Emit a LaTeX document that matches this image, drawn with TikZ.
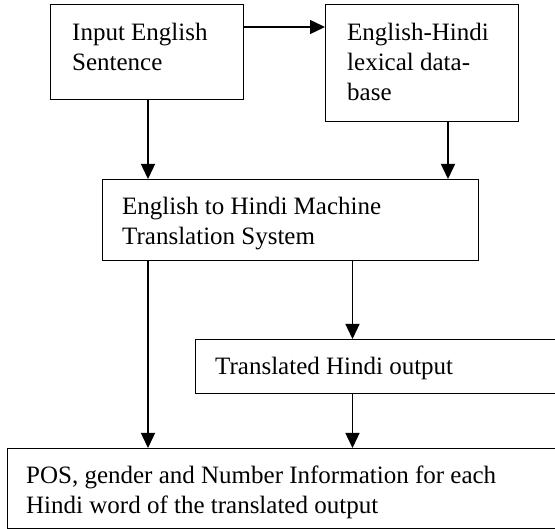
\documentclass[tikz,border=0pt]{standalone}
\usepackage{fontspec}
\setmainfont{Liberation Serif}
\usetikzlibrary{arrows.meta}
\begin{document}
\begin{tikzpicture}[x=1pt,y=-1pt,
  box/.style={draw, line width=1.4pt, inner sep=0pt, anchor=north west},
  txt/.style={anchor=north west, inner sep=0pt, align=left, font=\fontsize{25}{30}\selectfont},
  arr/.style={line width=1.4pt, -{Triangle[length=15pt,width=14pt]}}]
\clip (0,0) rectangle (555,529);
% boxes
\node[box, minimum width=193pt, minimum height=95pt] (b1) at (50,4) {};
\node[box, minimum width=193pt, minimum height=117pt] (b2) at (325,4) {};
\node[box, minimum width=376pt, minimum height=81pt] (b3) at (101.5,179) {};
\node[box, minimum width=370pt, minimum height=54pt] (b4) at (195,339) {};
\node[box, minimum width=560pt, minimum height=80pt] (b5) at (7,448) {};
% texts
\node[txt] (t1) at (72,19) {\strut Input English\\\strut Sentence};
\node[txt] (t2) at (347,19) {\strut English-Hindi\\\strut lexical data-\\\strut base};
\node[txt] (t3) at (122,193) {\strut English to Hindi Machine\\\strut Translation System};
\node[txt] (t4) at (215,353) {\strut Translated Hindi output};
\node[txt] (t5) at (26,462.5) {\strut POS, gender and Number Information for each\\\strut Hindi word of the translated output};
% guide coordinates
\coordinate (r1) at (0,27);
\coordinate (cA) at (148,0);
\coordinate (cB) at (448,0);
\coordinate (cC) at (352.5,0);
% connectors
\draw[arr] (b1.east |- r1) -- (b2.west |- r1);
\draw[arr] (b1.south -| cA) -- (b3.north -| cA);
\draw[arr] (b2.south -| cB) -- (b3.north -| cB);
\draw[arr] (b3.south -| cA) -- (b5.north -| cA);
\draw[arr] (b3.south -| cC) -- (b4.north -| cC);
\draw[arr] (b4.south -| cC) -- (b5.north -| cC);
\end{tikzpicture}
\end{document}
